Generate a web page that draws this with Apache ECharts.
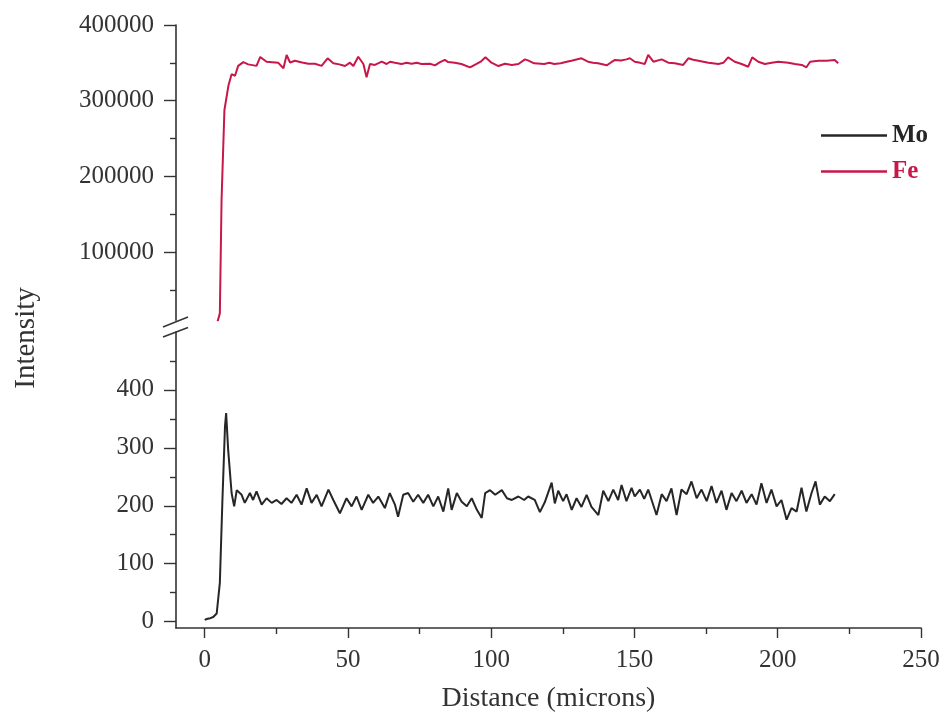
<!DOCTYPE html>
<html>
<head>
<meta charset="utf-8">
<script src="https://cdn.jsdelivr.net/npm/echarts@6/dist/echarts.min.js"></script>
<style>
html,body{margin:0;padding:0;background:#fff;}
#chart{width:946px;height:725px;}
</style>
</head>
<body>
<div id="chart"></div>
<script>
// ---- Data ----
var xMajorTicks = [0, 50, 100, 150, 200, 250];
var xMinorTicks = [25, 75, 125, 175, 225];
var feMajorTicks = [100000, 200000, 300000, 400000];
var feMinorTicks = [50000, 150000, 250000, 350000];
var moMajorTicks = [0, 100, 200, 300, 400];
var moMinorTicks = [50, 150, 250, 350, 450];

var moDist = [0,1,2,3,4.2,5.3,6.2,7.1,7.5,8.2,9.4,10.3,11.2,12.9,14,15.8,16.9,18.1,19.9,21.6,23.4,25.1,26.8,28.6,30.3,32.1,33.8,35.6,37.3,39.1,40.8,43.2,44.9,47.2,49.5,51.3,53,54.8,57.1,58.8,60.6,62.9,64.6,66.4,67.5,69.3,71,72.8,74.5,76.3,78,79.8,81.5,83.3,85,86.2,88,89.7,91.5,93.2,95,96.7,97.9,99.6,101.4,103.7,105.5,107.2,109.5,111.5,112.9,115.2,117,118.7,121.1,122.2,123.4,125.1,126.3,128.1,129.8,131.5,133.3,135,137.4,139.1,140.9,142.6,144.3,145.5,147.2,149,150.1,151.9,153.4,154.8,157.7,159.5,161.2,162.9,164.7,166.4,168.2,169.9,171.7,173.4,175.2,176.9,178.6,180.4,182.1,183.9,185.6,187.4,189.1,190.9,192.6,194.3,196.1,197.8,199.6,201.3,203.1,204.8,206.6,208.3,210,211.8,213.2,214.7,216.4,218.2,219.9];
var moInt = [3,5,6,8,14,67,210,337,360,297,222,199,227,219,205,222,210,225,202,213,205,210,203,213,205,219,202,230,205,219,199,228,210,187,213,199,216,193,219,205,216,196,222,202,181,219,222,207,219,205,219,199,216,190,230,193,222,207,199,213,193,179,222,227,219,227,213,210,216,210,216,210,189,206,240,204,226,208,220,193,213,198,219,198,184,226,208,228,210,236,208,231,216,228,212,228,184,220,208,230,184,228,220,242,213,228,208,234,205,226,193,222,208,226,205,220,202,239,205,228,199,210,176,196,190,231,190,222,242,202,216,208,220];

var feDist = [4.5,5.3,5.9,6.9,8.3,9.4,10.6,11.7,13.5,15.2,18.1,19.4,21.6,23.5,25.7,27.5,28.6,29.8,31.5,34,36.2,38.5,40.8,42.9,44.9,47,49,50.7,51.9,53.6,55.4,56.5,57.7,59.4,61.8,63.5,64.7,66.4,68.7,70.5,72.2,74,75.7,78.6,80.4,82,83.8,85,87.3,89.6,92.6,94.9,96.5,98,100.1,102.5,104.8,107.2,109.5,111.8,113,115,118.5,120.3,122,124.3,126,128,131.5,133.8,135.5,137.3,140.3,141.8,143.2,145.3,147.2,148.4,150.1,152,153.6,154.8,156.6,159.5,161.8,164.1,167,168.8,170.5,172.3,175.8,179.3,181,182.7,185,187.4,189.7,191.1,193.2,195.5,197.9,200.2,203.7,206,208.4,210,211.3,214.2,217.1,219.9,221.1];
var feInt = [8100,19000,168800,287700,320000,335000,333000,346000,351000,348000,346000,357800,351500,350800,350000,342800,360400,350500,352800,350500,348800,348800,346000,356000,349400,348000,345800,350200,345800,358100,348500,331000,348500,347200,351500,348500,351500,350200,348500,350000,348800,350200,348500,348800,346700,350500,353800,351000,350200,348500,344100,348500,352000,357300,350200,345800,348800,347200,348500,354600,353000,349400,348500,350000,348500,349400,351000,352800,356000,351500,350200,349400,346700,350500,353800,353000,354600,356000,351500,350000,348500,360400,351500,354600,350200,349400,347200,356000,354000,352800,350200,348500,350000,357300,351500,348500,344900,357300,351500,348500,350200,351500,350200,348500,347200,344100,351500,352800,352800,353800,349400];

function zip(a, b) { return a.map(function (v, i) { return [v, b[i]]; }); }
function plain(v) { return String(v); }

var FONT = "'Liberation Serif','Times New Roman',serif";
var AX = '#333';
var MO_COLOR = '#262626';
var FE_COLOR = '#c8174a';

var chart = echarts.init(document.getElementById('chart'), null, {renderer: 'canvas'});

var option = {
  backgroundColor: '#fff',
  animation: false,
  grid: [
    {left: 176, top: 25, width: 745, height: 295.2},
    {left: 176, top: 332, width: 745, height: 296}
  ],
  xAxis: [
    {type: 'value', gridIndex: 0, min: -10, max: 250, position: 'bottom', show: false},
    {
      type: 'value', gridIndex: 1, min: -10, max: 250, position: 'bottom',
      axisLine: {show: true, onZero: false, lineStyle: {color: AX, width: 1.6}},
      axisTick: {show: true, inside: false, length: 10, customValues: xMajorTicks, lineStyle: {color: AX, width: 1.4}},
      axisLabel: {show: true, customValues: xMajorTicks, formatter: plain, margin: 20, fontFamily: FONT, fontSize: 25, color: '#333'},
      splitLine: {show: false},
      name: 'Distance (microns)', nameLocation: 'middle', nameGap: 57,
      nameTextStyle: {fontFamily: FONT, fontSize: 28, color: '#333'}
    },
    {
      type: 'value', gridIndex: 1, min: -10, max: 250, position: 'bottom',
      axisLine: {show: false, onZero: false},
      axisTick: {show: true, inside: false, length: 6, customValues: xMinorTicks, lineStyle: {color: AX, width: 1.4}},
      axisLabel: {show: false},
      splitLine: {show: false}
    }
  ],
  yAxis: [
    {
      type: 'value', gridIndex: 0, min: 10000, max: 400000, position: 'left',
      axisLine: {show: true, onZero: false, lineStyle: {color: AX, width: 1.6}},
      axisTick: {show: true, inside: false, length: 12, customValues: feMajorTicks, lineStyle: {color: AX, width: 1.4}},
      axisLabel: {show: true, customValues: feMajorTicks, formatter: plain, margin: 22, fontFamily: FONT, fontSize: 25, color: '#333'},
      splitLine: {show: false}
    },
    {
      type: 'value', gridIndex: 0, min: 10000, max: 400000, position: 'left', offset: 0,
      axisLine: {show: false, onZero: false},
      axisTick: {show: true, inside: false, length: 6, customValues: feMinorTicks, lineStyle: {color: AX, width: 1.4}},
      axisLabel: {show: false},
      splitLine: {show: false}
    },
    {
      type: 'value', gridIndex: 1, min: -11, max: 500, position: 'left',
      axisLine: {show: true, onZero: false, lineStyle: {color: AX, width: 1.6}},
      axisTick: {show: true, inside: false, length: 12, customValues: moMajorTicks, lineStyle: {color: AX, width: 1.4}},
      axisLabel: {show: true, customValues: moMajorTicks, formatter: plain, margin: 22, fontFamily: FONT, fontSize: 25, color: '#333'},
      splitLine: {show: false}
    },
    {
      type: 'value', gridIndex: 1, min: -11, max: 500, position: 'left', offset: 0,
      axisLine: {show: false, onZero: false},
      axisTick: {show: true, inside: false, length: 6, customValues: moMinorTicks, lineStyle: {color: AX, width: 1.4}},
      axisLabel: {show: false},
      splitLine: {show: false}
    }
  ],
  legend: {
    orient: 'vertical',
    left: 816, top: 118,
    icon: 'rect',
    itemWidth: 66, itemHeight: 2.5,
    itemGap: 11,
    textStyle: {fontFamily: FONT, fontSize: 25, fontWeight: 'bold'},
    data: [
      {name: 'Mo', textStyle: {color: MO_COLOR}},
      {name: 'Fe', textStyle: {color: FE_COLOR}}
    ]
  },
  series: [
    {
      name: 'Mo', type: 'line', xAxisIndex: 1, yAxisIndex: 2,
      data: zip(moDist, moInt), showSymbol: false, symbol: 'none',
      lineStyle: {color: MO_COLOR, width: 2}, itemStyle: {color: MO_COLOR}
    },
    {
      name: 'Fe', type: 'line', xAxisIndex: 0, yAxisIndex: 0,
      data: zip(feDist, feInt), showSymbol: false, symbol: 'none',
      lineStyle: {color: FE_COLOR, width: 2}, itemStyle: {color: FE_COLOR}
    }
  ],
  graphic: [
    {type: 'line', shape: {x1: 163, y1: 327, x2: 188, y2: 317}, style: {stroke: AX, lineWidth: 1.5}},
    {type: 'line', shape: {x1: 163, y1: 337, x2: 188, y2: 327.5}, style: {stroke: AX, lineWidth: 1.5}},
    {type: 'text', x: 26, y: 338, rotation: Math.PI / 2,
     style: {text: 'Intensity', font: "29px 'Liberation Serif','Times New Roman',serif", fill: '#333', textAlign: 'center', textVerticalAlign: 'middle'}}
  ]
};
chart.setOption(option);
</script>
</body>
</html>
